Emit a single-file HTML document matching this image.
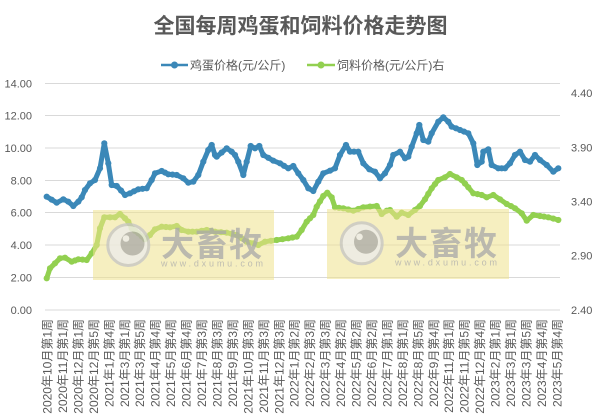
<!DOCTYPE html>
<html><head><meta charset="utf-8">
<style>
html,body{margin:0;padding:0;background:#fff;}
svg{display:block;}
text{font-family:"Liberation Sans","Noto Sans CJK SC",sans-serif;fill:#595959;}
</style></head>
<body>
<svg width="601" height="415" viewBox="0 0 601 415" xmlns="http://www.w3.org/2000/svg">
<defs>
<marker id="mb" markerUnits="userSpaceOnUse" markerWidth="8" markerHeight="8" refX="4" refY="4"><circle cx="4" cy="4" r="3.1" fill="#3b88b8"/></marker>
<marker id="mg" markerUnits="userSpaceOnUse" markerWidth="8" markerHeight="8" refX="4" refY="4"><circle cx="4" cy="4" r="3.1" fill="#92d050"/></marker>
</defs>
<rect width="601" height="415" fill="#fff"/>
<text x="300.5" y="33" text-anchor="middle" style="font-size:21px;font-weight:bold;font-family:'Liberation Sans','Noto Sans CJK SC',sans-serif;">全国每周鸡蛋和饲料价格走势图</text>
<!-- legend -->
<line x1="161" y1="65" x2="188" y2="65" stroke="#3b88b8" stroke-width="2.5"/>
<circle cx="174.5" cy="65" r="3.5" fill="#3b88b8"/>
<text x="190" y="69.5" style="font-size:12px">鸡蛋价格(元/公斤)</text>
<line x1="307" y1="65" x2="335" y2="65" stroke="#92d050" stroke-width="2.5"/>
<circle cx="321" cy="65" r="3.5" fill="#92d050"/>
<text x="337" y="69.5" style="font-size:12px">饲料价格(元/公斤)右</text>
<!-- gridlines -->
<g stroke="#d9d9d9" stroke-width="1">
<line x1="45" x2="560" y1="83.5" y2="83.5"/>
<line x1="45" x2="560" y1="115.5" y2="115.5"/>
<line x1="45" x2="560" y1="148" y2="148"/>
<line x1="45" x2="560" y1="180.5" y2="180.5"/>
<line x1="45" x2="560" y1="212.5" y2="212.5"/>
<line x1="45" x2="560" y1="245" y2="245"/>
<line x1="45" x2="560" y1="277.5" y2="277.5"/>
<line x1="45" x2="560" y1="310" y2="310"/>
</g>
<!-- left axis -->
<g style="font-size:11px" text-anchor="end">
<text x="32" y="87.5">14.00</text>
<text x="32" y="119.5">12.00</text>
<text x="32" y="152">10.00</text>
<text x="32" y="184.5">8.00</text>
<text x="32" y="216.5">6.00</text>
<text x="32" y="249">4.00</text>
<text x="32" y="281.5">2.00</text>
<text x="32" y="314">0.00</text>
</g>
<!-- right axis -->
<g style="font-size:11px">
<text x="571" y="97">4.40</text>
<text x="571" y="151.5">3.90</text>
<text x="571" y="205.5">3.40</text>
<text x="571" y="259.5">2.90</text>
<text x="571" y="314">2.40</text>
</g>
<!-- series -->
<polyline fill="none" stroke="#3b88b8" stroke-width="5" stroke-linejoin="round" stroke-linecap="round" marker-start="url(#mb)" marker-mid="url(#mb)" marker-end="url(#mb)" points="46.7,196.7 51.7,199.7 56.7,202.7 63.3,199.3 68.3,201.7 73.3,206 78.3,201.7 81.7,197.3 85,190 90,183.3 95,180 100,168.3 104.3,143.3 108.3,163.3 111.7,185 116.7,186 121,190.5 125,195 130,193.3 134,191.3 138.3,189.3 142.5,188.8 146.7,188.3 151.7,180 155,173.3 161.7,171 165,172.6 168.3,174.3 172.5,174.6 176.7,175 183.3,178.3 188.3,182.7 193.3,181.7 198.3,175 203.3,161.7 208.3,150 211.7,145 215,155 216.7,156.7 221.7,152.5 226.7,148.3 231.7,151.7 235,155 238.3,161.7 243.3,175 246.7,161.7 250.7,146 255,148.3 259.3,146 263.3,155 268.3,157.8 273.3,160.7 280,163.3 284,165.8 288.3,168.3 293.3,166 298.3,173.3 303.3,180 308.3,188.3 313.3,191 318.3,181.7 323.3,173.3 330,170.7 335,168.3 340,155 346,145 350,151.7 354,151.7 358.3,151.7 363.3,163.3 369.3,169.3 375,171.7 380,178.3 385,173.3 390,165 393.3,155 400,151.7 405,158.3 408.3,156.7 411.7,146.7 416.7,133.3 419.3,125 423.3,140 428.3,141.7 431.7,133.3 438.3,121.7 443.3,117.3 448.3,121.7 451.7,126.7 456,128.3 460,130 464,131.6 468.3,133.3 473.3,143.3 477.3,165 481.7,161.7 483.3,151.7 488.3,149.3 491.7,165 498.3,168.3 501.7,168.3 505,168.3 510,163.3 515,155 520,151.7 525,160 530,161.7 535,155 540,160 546.7,165 553.3,171.7 558.3,168.3"/>
<polyline fill="none" stroke="#92d050" stroke-width="5" stroke-linejoin="round" stroke-linecap="round" marker-start="url(#mg)" marker-mid="url(#mg)" marker-end="url(#mg)" points="46.7,278.3 50,268.3 55,263.3 60,258.3 65,257.7 71.7,261.7 75,260.5 78.3,259.3 82.5,259.6 86.7,260 91.7,253.3 96.7,245 100,228.3 104.3,217.3 110,217.3 115,217.3 120,214 125,218.3 128.3,221.7 131.7,228.3 135,230.8 138.3,233.3 141.7,236.3 145,239.3 150,235 155,229.3 161.7,226.7 166,227 170,227.3 176.7,226 181.7,230 188.3,231.7 192.5,231.7 196.7,231.7 201.7,230.8 206.7,230 211,230.8 215,231.7 221,232.2 226.7,232.7 231.7,233.8 236.7,235 241.7,238.3 246.7,241.7 253.3,243.3 258.3,245 265,241.7 271,240.8 276.7,240 282.5,239.2 288.3,238.3 292.5,237.5 296.7,236.7 301.7,230 306.7,221.7 310,218.3 313.3,215 316.7,206.7 320,201.3 323.3,196 327.3,192.7 331.7,197.3 335,207.3 339,207.8 343.3,208.3 348.3,209.5 353.3,210.7 358.3,209 363.3,207.3 370,206.6 376.7,206 381.7,214 386.7,210.7 390,210 396.7,216.7 401.7,212.7 408.3,215 415,210 420,206 425,199.3 428.3,193.8 431.7,188.3 435,184.1 438.3,180 445,177.3 450,174 456.7,177.3 461.7,180 465,183.6 468.3,187.3 473.3,193.3 477.5,194.1 481.7,195 486.7,197.3 493.3,195 500,199.3 506.7,204 511,206.1 515,208.3 521.7,213.3 526.7,220.7 533.3,215 540,216 544,216.6 548.3,217.3 553.3,218.6 558.3,220"/>
<!-- watermarks -->
<g>
<rect x="93" y="210" width="181" height="70" fill="rgb(238,226,140)" fill-opacity="0.55"/>
<g opacity="0.75">
<circle cx="128.3" cy="245" r="20.5" fill="#ececec" stroke="#c4c4c4" stroke-width="3"/>
<circle cx="132.5" cy="243.5" r="12" fill="#a9a9a9"/>
<circle cx="126" cy="238.5" r="3.3" fill="#ececec"/>
<text x="161" y="256" style="font-size:33px;font-weight:bold;fill:#a8a8a8;font-family:'Noto Sans CJK SC',sans-serif" textLength="101" lengthAdjust="spacing">大畜牧</text>
<text x="161" y="266.5" style="font-size:9px;fill:#acacac" textLength="102" lengthAdjust="spacing">www.dxumu.com</text>
</g>
<rect x="327" y="209" width="182" height="70" fill="rgb(238,226,140)" fill-opacity="0.55"/>
<g opacity="0.75">
<circle cx="361.7" cy="243.3" r="20.5" fill="#ececec" stroke="#c4c4c4" stroke-width="3"/>
<circle cx="366" cy="241.8" r="12" fill="#a9a9a9"/>
<circle cx="359.5" cy="236.8" r="3.3" fill="#ececec"/>
<text x="395" y="255" style="font-size:33px;font-weight:bold;fill:#a8a8a8;font-family:'Noto Sans CJK SC',sans-serif" textLength="102" lengthAdjust="spacing">大畜牧</text>
<text x="395" y="265.5" style="font-size:9px;fill:#acacac" textLength="102" lengthAdjust="spacing">www.dxumu.com</text>
</g>
</g>
<!-- x labels -->
<g style="font-size:12px" text-anchor="end">
<text transform="translate(51.5,319) rotate(-90)">2020年10月第1周</text>
<text transform="translate(66.9,319) rotate(-90)">2020年11月第1周</text>
<text transform="translate(82.4,319) rotate(-90)">2020年12月第1周</text>
<text transform="translate(97.8,319) rotate(-90)">2020年12月第5周</text>
<text transform="translate(113.3,319) rotate(-90)">2021年1月第4周</text>
<text transform="translate(128.8,319) rotate(-90)">2021年3月第1周</text>
<text transform="translate(144.2,319) rotate(-90)">2021年3月第5周</text>
<text transform="translate(159.7,319) rotate(-90)">2021年4月第4周</text>
<text transform="translate(175.1,319) rotate(-90)">2021年5月第4周</text>
<text transform="translate(190.6,319) rotate(-90)">2021年6月第4周</text>
<text transform="translate(206,319) rotate(-90)">2021年7月第3周</text>
<text transform="translate(221.5,319) rotate(-90)">2021年8月第3周</text>
<text transform="translate(236.9,319) rotate(-90)">2021年9月第3周</text>
<text transform="translate(252.4,319) rotate(-90)">2021年10月第3周</text>
<text transform="translate(267.8,319) rotate(-90)">2021年11月第3周</text>
<text transform="translate(283.3,319) rotate(-90)">2021年12月第3周</text>
<text transform="translate(298.7,319) rotate(-90)">2022年1月第2周</text>
<text transform="translate(314.2,319) rotate(-90)">2022年2月第3周</text>
<text transform="translate(329.6,319) rotate(-90)">2022年3月第3周</text>
<text transform="translate(345.1,319) rotate(-90)">2022年4月第2周</text>
<text transform="translate(360.5,319) rotate(-90)">2022年5月第2周</text>
<text transform="translate(376,319) rotate(-90)">2022年6月第2周</text>
<text transform="translate(391.4,319) rotate(-90)">2022年7月第1周</text>
<text transform="translate(406.9,319) rotate(-90)">2022年8月第1周</text>
<text transform="translate(422.3,319) rotate(-90)">2022年8月第5周</text>
<text transform="translate(437.8,319) rotate(-90)">2022年9月第4周</text>
<text transform="translate(453.2,319) rotate(-90)">2022年11月第1周</text>
<text transform="translate(468.7,319) rotate(-90)">2022年11月第5周</text>
<text transform="translate(484.1,319) rotate(-90)">2022年12月第4周</text>
<text transform="translate(499.6,319) rotate(-90)">2023年2月第1周</text>
<text transform="translate(515,319) rotate(-90)">2023年3月第1周</text>
<text transform="translate(530.5,319) rotate(-90)">2023年3月第5周</text>
<text transform="translate(545.9,319) rotate(-90)">2023年4月第4周</text>
<text transform="translate(561.4,319) rotate(-90)">2023年5月第4周</text>
</g>
</svg>
</body></html>
